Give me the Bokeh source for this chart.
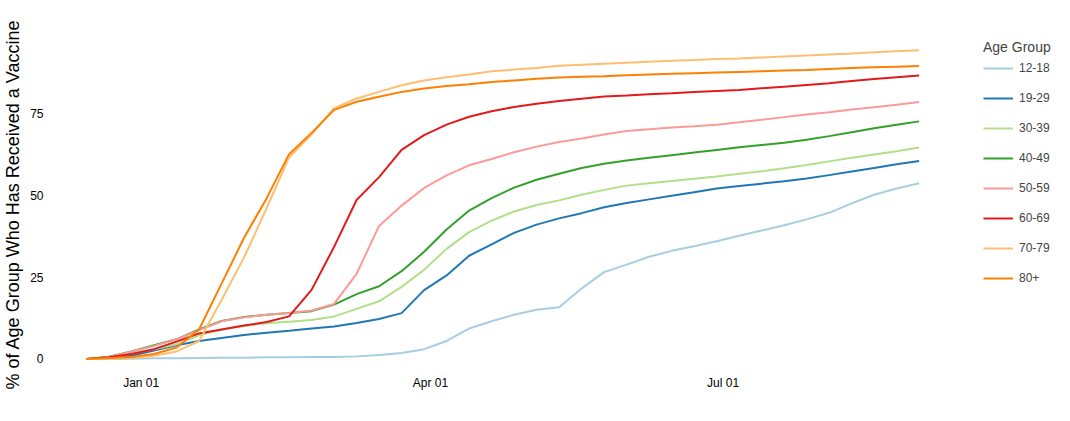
import pandas as pd
from bokeh.plotting import figure
from bokeh.models import FixedTicker, DatetimeTickFormatter, Legend, LegendItem, Range1d
from bokeh.embed import file_html
from bokeh.resources import INLINE

# weekly readings, Dec 15 2020 -> Aug 31 2021
dates = ["2020-12-15", "2020-12-22", "2020-12-29", "2021-01-05", "2021-01-12", "2021-01-19",
         "2021-01-26", "2021-02-02", "2021-02-09", "2021-02-16", "2021-02-23", "2021-03-02",
         "2021-03-09", "2021-03-16", "2021-03-23", "2021-03-30", "2021-04-06", "2021-04-13",
         "2021-04-20", "2021-04-27", "2021-05-04", "2021-05-11", "2021-05-18", "2021-05-25",
         "2021-06-01", "2021-06-08", "2021-06-15", "2021-06-22", "2021-06-29", "2021-07-06",
         "2021-07-13", "2021-07-20", "2021-07-27", "2021-08-03", "2021-08-10", "2021-08-17",
         "2021-08-24", "2021-08-31"]

age_groups = ["12-18", "19-29", "30-39", "40-49", "50-59", "60-69", "70-79", "80+"]
colors = ["#a6cee3", "#1f78b4", "#b2df8a", "#33a02c", "#fb9a99", "#e31a1c", "#fdbf6f", "#ff7f00"]

pct_12_18 = [0, 0, 0.1, 0.2, 0.2, 0.3, 0.4, 0.4, 0.5, 0.5, 0.6, 0.6, 0.8, 1.2, 1.8, 3.0, 5.5, 9.3,
             11.5, 13.5, 15.0, 15.8, 21.5, 26.5, 28.8, 31.2, 33.0, 34.4, 35.9, 37.6, 39.2, 40.8,
             42.6, 44.6, 47.5, 50.1, 52.0, 53.6]
pct_19_29 = [0, 0.3, 1.0, 2.6, 4.2, 5.5, 6.4, 7.3, 8.0, 8.6, 9.3, 9.9, 11.0, 12.2, 14.0, 21.0, 25.5,
             31.5, 35.0, 38.5, 41.0, 42.9, 44.5, 46.3, 47.6, 48.7, 49.8, 50.9, 52.0, 52.8, 53.5,
             54.2, 55.1, 56.1, 57.2, 58.3, 59.4, 60.4]
pct_30_39 = [0, 0.4, 1.6, 3.0, 4.5, 7.2, 9.0, 10.1, 10.9, 11.4, 11.9, 13.0, 15.3, 17.6, 22.0, 27.2,
             33.6, 38.7, 42.2, 45.0, 47.0, 48.4, 50.1, 51.6, 52.9, 53.6, 54.3, 55.0, 55.7, 56.5,
             57.3, 58.2, 59.2, 60.3, 61.4, 62.4, 63.4, 64.5]
pct_40_49 = [0, 0.7, 2.3, 4.2, 6.0, 9.0, 11.6, 12.8, 13.5, 14.0, 14.6, 16.6, 19.8, 22.2, 26.8, 32.7,
             39.5, 45.3, 49.1, 52.3, 54.7, 56.5, 58.3, 59.6, 60.6, 61.4, 62.2, 63.0, 63.8, 64.6,
             65.3, 66.0, 66.9, 68.0, 69.2, 70.4, 71.5, 72.5]
pct_50_59 = [0, 0.6, 2.2, 4.0, 6.0, 8.8, 11.5, 12.7, 13.5, 14.0, 14.8, 16.8, 26.0, 40.6, 46.8, 52.2,
             56.0, 59.1, 61.0, 63.1, 64.8, 66.2, 67.3, 68.5, 69.6, 70.1, 70.6, 71.0, 71.5, 72.2,
             73.0, 73.8, 74.6, 75.3, 76.1, 76.8, 77.6, 78.4]
pct_60_69 = [0, 0.5, 1.5, 3.0, 5.3, 7.8, 9.0, 10.2, 11.3, 13.0, 21.1, 34.2, 48.5, 55.5, 63.8, 68.3,
             71.5, 73.9, 75.6, 76.9, 77.9, 78.7, 79.4, 80.1, 80.4, 80.8, 81.1, 81.5, 81.8, 82.1,
             82.6, 83.1, 83.6, 84.1, 84.8, 85.4, 86.0, 86.5]
pct_70_79 = [0, 0.1, 0.3, 1.0, 2.3, 5.5, 18.0, 31.0, 46.0, 61.5, 68.5, 76.5, 79.5, 81.5, 83.5, 85.0,
             86.0, 86.8, 87.8, 88.3, 88.8, 89.5, 89.8, 90.1, 90.4, 90.7, 91.0, 91.2, 91.5, 91.7,
             92.0, 92.3, 92.6, 92.9, 93.2, 93.6, 93.9, 94.2]
pct_80_plus = [0, 0.3, 0.6, 1.5, 3.5, 9.0, 23.0, 37.0, 49.0, 62.5, 69.0, 76.0, 78.5, 80.0, 81.5, 82.5,
               83.3, 83.8, 84.5, 85.0, 85.5, 85.9, 86.1, 86.3, 86.6, 86.8, 87.0, 87.2, 87.4, 87.6,
               87.8, 88.0, 88.2, 88.5, 88.8, 89.0, 89.2, 89.4]

series = [pct_12_18, pct_19_29, pct_30_39, pct_40_49, pct_50_59, pct_60_69, pct_70_79, pct_80_plus]

y_ticks = [0, 25, 50, 75]
x_ticks = ["2021-01-01", "2021-04-01", "2021-07-01"]

FONT = "Liberation Sans"
x = pd.to_datetime(dates)

jan1 = pd.Timestamp("2021-01-01")
x_range = Range1d(jan1 + pd.Timedelta(days=-27.59), jan1 + pd.Timedelta(days=284.1))
y_range = Range1d(-4.12, 98.4)

p = figure(width=1054, height=405, x_axis_type="datetime",
           x_range=x_range, y_range=y_range,
           output_backend="svg", toolbar_location=None,
           min_border_left=52, min_border_right=0, min_border_top=36, min_border_bottom=33)
p.outline_line_color = None
p.xgrid.visible = False
p.ygrid.visible = False

items = []
for name, vals, col in zip(age_groups, series, colors):
    r = p.line(x, vals, line_width=2, color=col)
    items.append(LegendItem(label=name, renderers=[r]))

# axes: no lines, no ticks, labels only
for ax in (p.xaxis[0], p.yaxis[0]):
    ax.axis_line_color = None
    ax.major_tick_line_color = None
    ax.minor_tick_line_color = None
    ax.major_tick_in = 0
    ax.major_tick_out = 0
    ax.minor_tick_out = 0
    ax.major_label_text_font = FONT
    ax.major_label_text_font_size = "12px"
    ax.major_label_text_color = "black"

p.xaxis.ticker = FixedTicker(ticks=[pd.Timestamp(t).value / 1e6 for t in x_ticks])
p.xaxis.formatter = DatetimeTickFormatter(days="%b %d", months="%b %d", years="%b %d")
p.xaxis.major_label_standoff = 3

p.yaxis.ticker = FixedTicker(ticks=y_ticks)
p.yaxis.major_label_standoff = 9
p.yaxis.axis_label = "% of Age Group Who Has Received a Vaccine"
p.yaxis.axis_label_text_font = FONT
p.yaxis.axis_label_text_font_size = "18px"
p.yaxis.axis_label_text_font_style = "normal"
p.yaxis.axis_label_text_color = "black"
p.yaxis.axis_label_standoff = 4

legend = Legend(items=items, location=(931, 84), title="Age Group")
legend.title_text_font = FONT
legend.title_text_font_size = "14px"
legend.title_text_font_style = "normal"
legend.title_standoff = 3
legend.label_text_font = FONT
legend.label_text_font_size = "12px"
legend.padding = 0
legend.spacing = 10
legend.glyph_width = 30
legend.glyph_height = 20
legend.label_height = 20
legend.label_standoff = 6
legend.border_line_color = None
legend.background_fill_alpha = 0
p.add_layout(legend)

open("out.html", "w").write(file_html(p, INLINE))
